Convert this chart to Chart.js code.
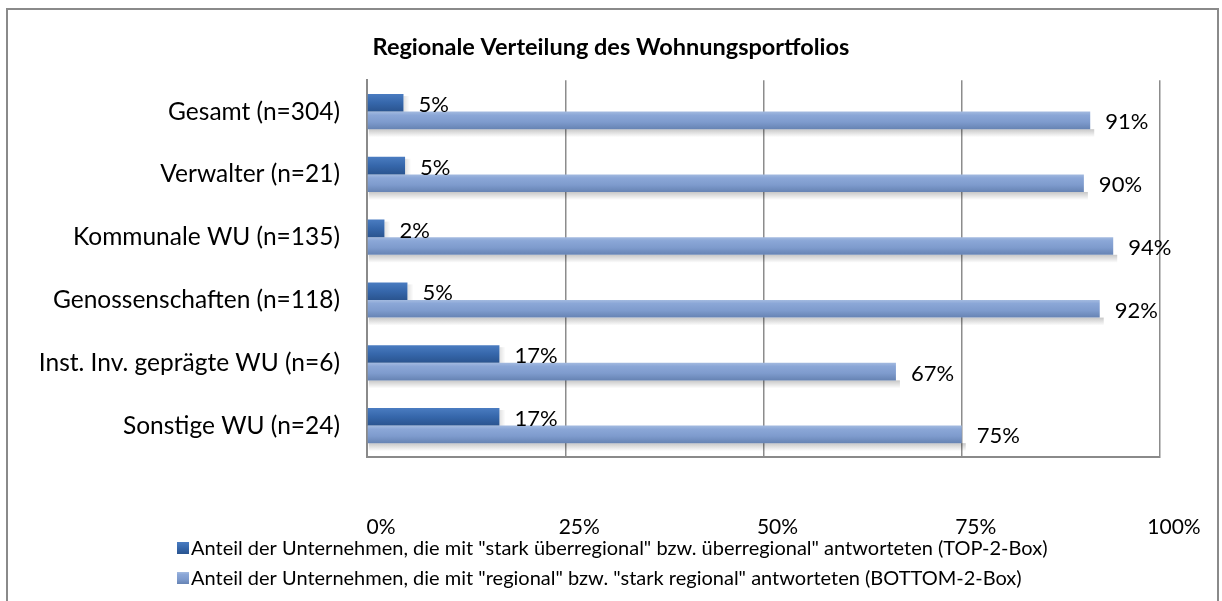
<!DOCTYPE html>
<html><head><meta charset="utf-8">
<script src="https://cdn.jsdelivr.net/npm/chart.js@4/dist/chart.umd.min.js"></script>
<style>
html,body{margin:0;padding:0;background:#fff;}
#wrap{position:relative;width:1222px;height:601px;overflow:hidden;}
</style>
</head><body>
<div id="wrap"><canvas id="c" width="1222" height="601"></canvas></div>
<script>
const categories = ['Gesamt (n=304)','Verwalter (n=21)','Kommunale WU (n=135)','Genossenschaften (n=118)','Inst. Inv. geprägte WU (n=6)','Sonstige WU (n=24)'];
const topBoxValues = [4.6, 4.8, 2.2, 5.1, 16.7, 16.7];
const bottomBoxValues = [91.2, 90.4, 94.1, 92.4, 66.7, 75.0];
const seriesNames = ['Anteil der Unternehmen, die mit "stark überregional" bzw. überregional" antworteten (TOP-2-Box)','Anteil der Unternehmen, die mit "regional" bzw. "stark regional" antworteten (BOTTOM-2-Box)'];
const tickLabels = ['0%','25%','50%','75%','100%'];
const titleText = 'Regionale Verteilung des Wohnungsportfolios';

const FONT = 'Lato, "Liberation Sans", sans-serif';
const CAT_PCT = 0.56;
const stopsDark = [[0,'#4a7cc1'],[0.5,'#3667ab'],[1,'#2a548f']];
const stopsLight = [[0,'#a3bae0'],[0.2,'#8ba7d7'],[0.6,'#7e9bcd'],[1,'#6683b3']];

function barGradient(ctx, stops, dsIndex){
  const chart = ctx.chart;
  const area = chart.chartArea;
  if(!area) return stops[1][1];
  const ys = chart.scales.y;
  const center = ys.getPixelForValue(ctx.dataIndex);
  const cw = area.height / categories.length;
  const group = cw * CAT_PCT;
  const th = group / 2;
  const top = center - group/2 + dsIndex*th;
  const g = chart.ctx.createLinearGradient(0, top, 0, top+th);
  stops.forEach(s => g.addColorStop(s[0], s[1]));
  return g;
}

const frame = {
  id:'frame',
  beforeDraw(chart){
    const c = chart.ctx;
    c.save();
    c.fillStyle='#fff'; c.fillRect(0,0,chart.width,chart.height);
    c.strokeStyle='#8a8a8a'; c.lineWidth=2;
    c.strokeRect(7,9,1211,640);
    c.restore();
  }
};

const shadows = {
  id:'shadows',
  beforeDatasetsDraw(chart){
    const c = chart.ctx;
    c.save();
    chart.data.datasets.forEach((ds, di) => {
      const meta = chart.getDatasetMeta(di);
      meta.data.forEach(el => {
        const p = el.getProps(['x','y','base','height'], true);
        const bottom = p.y + p.height/2;
        if(di === 1){
          const g = c.createLinearGradient(0,bottom,0,bottom+8);
          g.addColorStop(0,'rgba(0,0,0,0.22)');
          g.addColorStop(1,'rgba(0,0,0,0)');
          c.fillStyle = g;
          c.fillRect(p.base+1, bottom, p.x - p.base + 3, 8);
        } else {
          const g = c.createLinearGradient(p.x,0,p.x+6,0);
          g.addColorStop(0,'rgba(0,0,0,0.12)');
          g.addColorStop(1,'rgba(0,0,0,0)');
          c.fillStyle = g;
          c.fillRect(p.x, p.y - p.height/2 + 2, 6, p.height);
        }
      });
    });
    c.restore();
  }
};

const dataLabels = {
  id:'dataLabels',
  afterDatasetsDraw(chart){
    const c = chart.ctx;
    c.save();
    c.font = '22px ' + FONT;
    c.fillStyle = '#000';
    c.textAlign = 'left';
    c.textBaseline = 'middle';
    chart.data.datasets.forEach((ds, di) => {
      const meta = chart.getDatasetMeta(di);
      meta.data.forEach((el, i) => {
        const p = el.getProps(['x','y'], true);
        c.fillText(Math.round(ds.data[i]) + '%', p.x + 15, p.y + 2);
      });
    });
    c.restore();
  }
};

const customLegend = {
  id:'customLegend',
  afterDraw(chart){
    const c = chart.ctx;
    c.save();
    c.font = '20px ' + FONT;
    c.textBaseline = 'middle';
    c.textAlign = 'left';
    const rows = [548, 578];
    chart.data.datasets.forEach((ds, di) => {
      const y = rows[di];
      const stops = di === 0 ? stopsDark : stopsLight;
      const g = c.createLinearGradient(0, y-6, 0, y+6);
      stops.forEach(s => g.addColorStop(s[0], s[1]));
      c.fillStyle = g;
      c.fillRect(177, y-6, 12, 12);
      c.fillStyle = '#000';
      c.fillText(ds.label, 191, y + 1);
    });
    c.restore();
  }
};

new Chart(document.getElementById('c'), {
  type:'bar',
  data:{
    labels: categories,
    datasets:[
      {label: seriesNames[0], data: topBoxValues, backgroundColor: ctx => barGradient(ctx, stopsDark, 0), categoryPercentage: CAT_PCT, barPercentage: 1},
      {label: seriesNames[1], data: bottomBoxValues, backgroundColor: ctx => barGradient(ctx, stopsLight, 1), categoryPercentage: CAT_PCT, barPercentage: 1}
    ]
  },
  options:{
    indexAxis:'y',
    responsive:false,
    animation:false,
    layout:{padding:{left:0,right:0,top:0,bottom:0}},
    plugins:{
      legend:{display:false},
      tooltip:{enabled:false},
      title:{display:true, text:titleText, color:'#000', font:{family:FONT, size:23.5, weight:'bold'}, padding:{top:33,bottom:19}}
    },
    scales:{
      x:{
        min:0,max:100,
        afterFit(s){ s.height = 144; s.paddingLeft = 0; s.paddingRight = 62; },
        ticks:{stepSize:25, color:'#000', font:{family:FONT,size:21}, padding:58, labelOffset:14,
          callback:(v,i)=>tickLabels[i]},
        grid:{color:'#8c8c8c', lineWidth:1.5, drawTicks:false},
        border:{color:'#8a8a8a', width:2}
      },
      y:{
        afterFit(s){ s.width = 367; s.paddingTop = 0; s.paddingBottom = 0; },
        ticks:{color:'#000', font:{family:FONT,size:24.5}, padding:27},
        grid:{display:false, drawTicks:false},
        border:{color:'#8a8a8a', width:2}
      }
    }
  },
  plugins:[frame, shadows, dataLabels, customLegend]
});
</script>
</body></html>
